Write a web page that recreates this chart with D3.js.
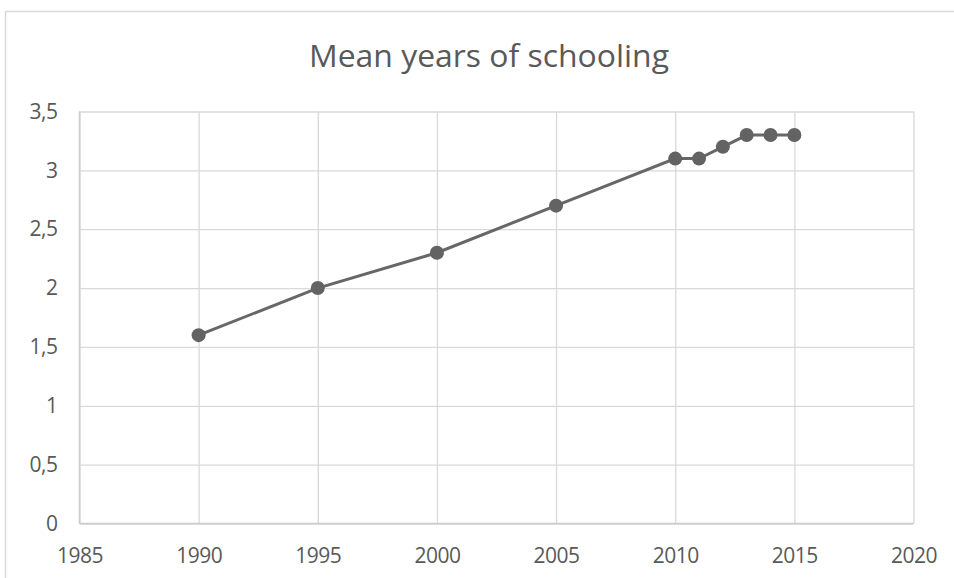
<!DOCTYPE html>
<html>
<head>
<meta charset="utf-8">
<script src="https://cdn.jsdelivr.net/npm/d3@7"></script>
<style>
  html, body { margin: 0; padding: 0; background: #fff; }
  svg { display: block; }
  text { font-family: "Open Sans", "DejaVu Sans", sans-serif; fill: #595959; }
</style>
</head>
<body>
<script>
// Mean years of schooling by year
const years = [1990, 1995, 2000, 2005, 2010, 2011, 2012, 2013, 2014, 2015];
const schooling = [1.6, 2.0, 2.3, 2.7, 3.1, 3.1, 3.2, 3.3, 3.3, 3.3];
const xTicks = [1985, 1990, 1995, 2000, 2005, 2010, 2015, 2020];
const yTicks = [0, 0.5, 1, 1.5, 2, 2.5, 3, 3.5];
const title = "Mean years of schooling";

const W = 954, H = 578;
const svg = d3.select("body").append("svg").attr("width", W).attr("height", H);

// chart frame
svg.append("rect")
  .attr("x", 5.5).attr("y", 11.5).attr("width", 980).attr("height", 620)
  .attr("fill", "#fff").attr("stroke", "#d9d9d9").attr("stroke-width", 1.5);

const x = d3.scaleLinear().domain([1985, 2020]).range([79.5, 913.5]);
const y = d3.scaleLinear().domain([0, 3.5]).range([523.5, 111.5]);

svg.append("text")
  .attr("x", 489).attr("y", 67)
  .attr("text-anchor", "middle")
  .attr("font-size", 31)
  .attr("textLength", 360)
  .attr("lengthAdjust", "spacingAndGlyphs")
  .text(title);

// gridlines and tick labels
const fmt = d => String(d).replace(".", ",");
const yAxis = d3.axisLeft(y).tickValues(yTicks).tickSize(-(x.range()[1] - x.range()[0])).tickFormat(fmt).tickPadding(22);
const gy = svg.append("g").attr("transform", `translate(${x.range()[0]},0)`).call(yAxis);
gy.select(".domain").remove();
gy.selectAll("line").attr("stroke", "#d9d9d9").attr("stroke-width", 1.3);
gy.selectAll("text").attr("font-size", 21).attr("letter-spacing", -0.5).attr("fill", "#595959").attr("font-family", null);

const xAxis = d3.axisBottom(x).tickValues(xTicks).tickSize(-(y.range()[0] - y.range()[1])).tickFormat(d3.format("d"));
const gx = svg.append("g").attr("transform", `translate(0,${y.range()[0]})`).call(xAxis);
gx.select(".domain").remove();
gx.selectAll("line").attr("stroke", "#d9d9d9").attr("stroke-width", 1.3);
gx.selectAll("text").attr("y", 39.5).attr("dy", null)
  .attr("font-size", 21).attr("letter-spacing", -0.5).attr("fill", "#595959").attr("font-family", null);

// axis lines
svg.append("line").attr("x1", x.range()[0]).attr("x2", x.range()[1]).attr("y1", y(0)).attr("y2", y(0))
  .attr("stroke", "#cccccc").attr("stroke-width", 1.5);
svg.append("line").attr("x1", x.range()[0]).attr("x2", x.range()[0]).attr("y1", y(0)).attr("y2", y(3.5))
  .attr("stroke", "#cccccc").attr("stroke-width", 1.5);

const data = years.map((yr, i) => ({ yr, v: schooling[i] }));

svg.append("path")
  .datum(data)
  .attr("fill", "none")
  .attr("stroke", "#676767")
  .attr("stroke-width", 3)
  .attr("d", d3.line().x(d => x(d.yr)).y(d => y(d.v)));

svg.selectAll("circle.pt")
  .data(data)
  .join("circle")
  .attr("class", "pt")
  .attr("cx", d => x(d.yr))
  .attr("cy", d => y(d.v))
  .attr("r", 7)
  .attr("fill", "#636363");
</script>
</body>
</html>
